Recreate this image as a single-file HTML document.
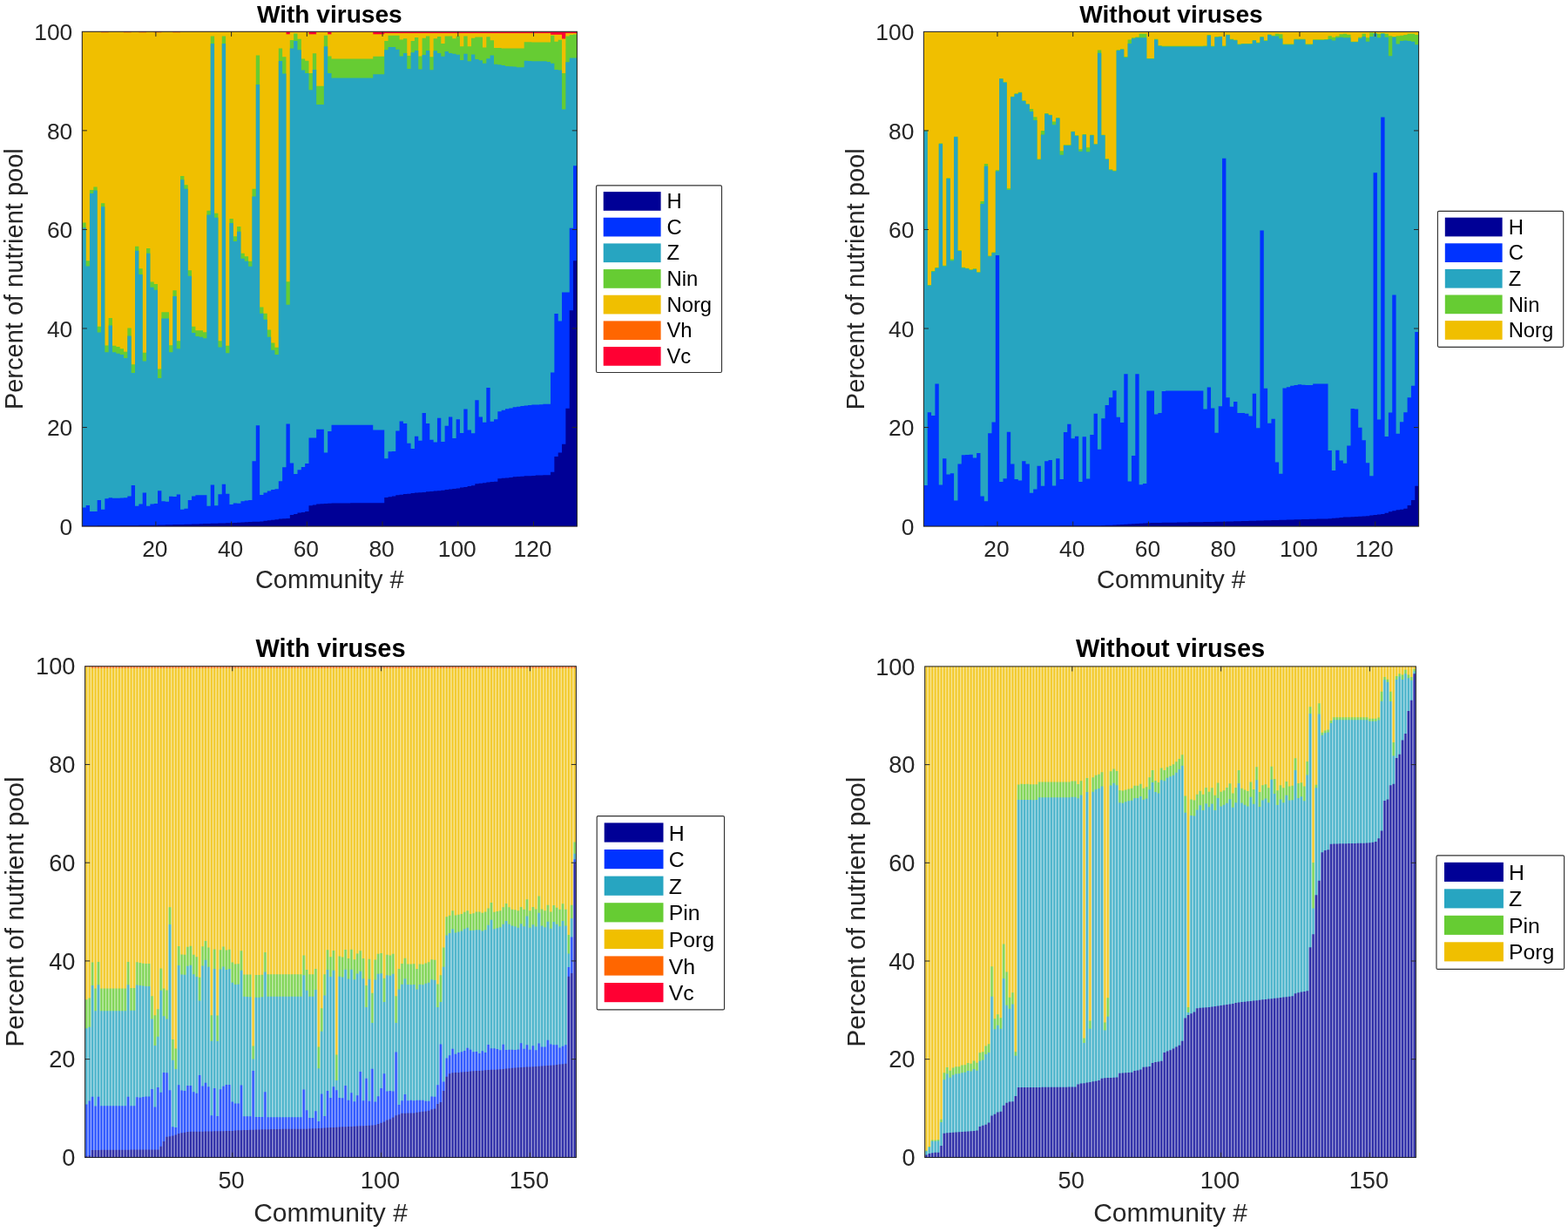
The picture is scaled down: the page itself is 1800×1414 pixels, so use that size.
<!DOCTYPE html>
<html lang="en"><head><meta charset="utf-8"><title>Nutrient pool composition by community</title>
<style>html,body{margin:0;padding:0;background:#fff}body{width:1800px;height:1414px;overflow:hidden}svg{display:block;font-family:'Liberation Sans', Arial, Helvetica, sans-serif}</style>
</head><body>
<svg width="1800" height="1414" viewBox="0 0 1800 1414">
<rect width="1800" height="1414" fill="#fff"/>
<g>
<rect x="94.3" y="36.3" width="568.1" height="567.8" fill="#ff0033"/>
<path d="M94.3 604.1V36.3H115.98V37.15H124.66V36.3H142V37.15H150.68V36.3H159.35V37.15H168.02V36.3H176.7V37.15H185.37V36.3H198.38V37.15H207.05V36.3H319.81V36.75H328.48V39.14H332.82V36.75H354.5V39.14H363.17V36.75H376.18V39.14H380.52V36.75H428.22V39.14H441.23V37.89H632.04V39.42H645.05V44.25H649.39V37.89H662.4V604.1Z" fill="#ff6600"/>
<path d="M94.3 604.1V36.3H115.98V37.15H124.66V36.3H142V37.15H150.68V36.3H159.35V37.15H168.02V36.3H176.7V37.15H185.37V36.3H198.38V37.15H207.05V36.3H319.81V37.04H328.48V39.42H332.82V37.04H354.5V39.42H363.17V37.04H376.18V39.42H380.52V37.04H428.22V39.42H441.23V38.34H632.04V39.88H645.05V44.7H649.39V38.34H662.4V604.1Z" fill="#f0bf00"/>
<path d="M94.3 604.1V255.47H98.64V299.19H102.97V218H107.31V214.59H111.65V374.71H115.98V233.33H120.32V396.57H124.66V365.06H128.99V396.85H133.33V397.99H137.67V400.26H142V403.67H146.34V376.41H150.68V418.15H155.01V282.73H159.35V308.28H163.69V404.8H168.02V285H172.36V323.61H176.7V325.88H181.03V423.54H185.37V358.24H194.04V396.29H198.38V333.26H202.72V391.17H207.05V202.1H211.39V212.32H215.73V310.26H220.06V374.71H224.4V379.25H233.07V381.24H237.41V241.84H241.75V41.41H246.08V244.68H250.42V391.17H254.76V41.41H259.09V396.85H263.43V250.93H267.77V271.37H272.1V260.01H276.44V290.67H280.78V294.37H285.11V299.76H289.45V216.86H293.79V63.55H298.12V352.56H302.46V359.66H306.8V378.4H311.13V393.45H315.47V398.84H319.81V55.61H324.14V65.26H328.48V323.32H332.82V45.95H337.15V38.57H341.49V44.82H345.83V67.53H350.16V69.8H354.5V84H358.84V61.28H363.17V98.76H371.85V40.84H376.18V64.41H380.52V67.53H428.22V64.69H441.23V47.09H445.57V40.84H458.58V45.38H462.91V44.25H467.25V64.12H471.59V47.09H475.92V43.11H480.26V64.41H484.6V43.68H488.93V41.41H493.27V65.26H497.61V44.25H501.94V41.98H506.28V49.93H510.62V41.41H519.29V44.25H523.63V41.41H527.96V53.33H532.3V41.41H536.64V53.33H540.97V43.68H545.31V42.55H553.98V54.47H558.32V42.26H562.66V46.24H566.99V55.04H575.67V55.61H601.69V48.22H610.36V48.51H632.04V40.84H636.38V47.66H640.72V45.67H645.05V84H649.39V41.41H653.73V39.99H658.06V39.42H662.4V604.1Z" fill="#66cc33"/>
<path d="M94.3 604.1V261.15H98.64V305.44H102.97V221.97H107.31V218.56H111.65V381.52H115.98V237.3H120.32V404.23H124.66V373.57H128.99V404.23H133.33V405.65H137.67V407.07H142V411.05H146.34V385.5H150.68V428.08H155.01V287.84H159.35V315.09H163.69V414.45H168.02V290.67H172.36V329.85H176.7V332.69H181.03V434.04H185.37V365.62H194.04V404.23H198.38V340.07H202.72V400.26H207.05V206.36H211.39V216.86H215.73V316.79H220.06V382.09H224.4V386.06H228.74V386.63H233.07V388.34H237.41V246.39H241.75V49.93H246.08V249.79H250.42V398.56H254.76V49.93H259.09V405.37H263.43V256.04H267.77V277.05H272.1V265.69H276.44V296.64H280.78V299.76H285.11V305.72H289.45V225.38H293.79V97.05H298.12V359.66H302.46V366.76H306.8V386.63H311.13V401.68H315.47V407.07H319.81V70.08H324.14V84.56H328.48V349.73H332.82V55.61H337.15V47.09H341.49V57.31H345.83V80.59H350.16V84H354.5V103.3H358.84V80.02H363.17V120.05H371.85V53.33H376.18V84H380.52V89.39H428.22V85.13H441.23V57.31H445.57V53.9H454.24V56.74H458.58V64.41H462.91V61H467.25V78.88H471.59V60.15H475.92V57.88H480.26V79.45H484.6V62.99H488.93V57.88H493.27V80.3H497.61V58.16H501.94V61H506.28V64.69H510.62V59.01H514.95V61H519.29V61.85H523.63V62.7H527.96V68.95H532.3V61.85H536.64V70.37H540.97V62.42H545.31V68.1H549.65V69.23H553.98V72.64H558.32V67.25H562.66V63.55H566.99V73.77H571.33V74.34H575.67V74.91H580V76.05H584.34V76.33H588.68V76.61H593.01V77.18H601.69V69.8H606.02V70.08H610.36V70.37H627.71V70.94H632.04V72.64H636.38V80.02H640.72V80.59H645.05V125.44H649.39V71.22H653.73V66.39H662.4V604.1Z" fill="#27a5c1"/>
<path d="M94.3 604.1V582.52H98.64V579.97H102.97V587.07H111.65V574.01H115.98V584.79H120.32V572.3H124.66V571.17H128.99V571.74H137.67V571.45H142V571.17H146.34V569.46H150.68V556.97H155.01V580.82H159.35V578.55H163.69V565.49H168.02V580.82H172.36V578.55H176.7V577.98H181.03V563.22H185.37V575.14H189.71V575.71H194.04V569.75H198.38V570.03H202.72V567.48H207.05V584.79H211.39V583.66H215.73V574.01H220.06V569.46H224.4V568.33H237.41V580.82H241.75V556.4H246.08V580.25H250.42V567.19H254.76V555.84H259.09V566.63H263.43V579.12H267.77V577.41H272.1V577.7H276.44V575.14H280.78V574.57H285.11V574.01H289.45V529.15H293.79V488.27H298.12V568.04H302.46V565.49H306.8V563.5H311.13V562.08H315.47V561.23H319.81V552.15H324.14V536.25H328.48V486.57H332.82V531.42H337.15V543.91H341.49V539.37H345.83V535.96H350.16V531.99H354.5V502.46H363.17V492.81H371.85V519.5H376.18V495.08H380.52V487.7H428.22V493.38H441.23V526.31H445.57V518.36H449.9V518.08H454.24V494.51H458.58V483.44H462.91V486H467.25V508.71H471.59V514.96H475.92V500.76H480.26V505.87H484.6V474.07H488.93V486H493.27V504.74H497.61V507.57H501.94V479.75H506.28V507.01H510.62V488.84H514.95V478.62H519.29V503.03H523.63V481.17H527.96V497.07H532.3V469.53H536.64V493.38H540.97V497.35H545.31V459.31H549.65V478.62H553.98V484.86H558.32V445.12H562.66V483.73H566.99V481.17H571.33V472.37H575.67V470.67H580V469.25H584.34V468.4H588.68V467.26H593.01V466.69H597.35V466.12H601.69V465.56H606.02V464.99H610.36V464.42H619.03V464.14H623.37V463.85H632.04V427.51H636.38V359.95H640.72V368.46H645.05V335.53H653.73V261.72H658.06V190.17H662.4V604.1Z" fill="#0033ff"/>
<path d="M94.3 604.1V603.53H98.64V603.49H102.97V603.44H107.31V603.4H111.65V603.35H115.98V603.31H120.32V603.26H124.66V603.22H128.99V603.17H133.33V603.13H137.67V603.08H142V603.04H146.34V602.99H150.68V602.95H155.01V602.9H159.35V602.86H163.69V602.81H168.02V602.77H172.36V602.73H176.7V602.68H181.03V602.57H185.37V602.45H189.71V602.34H194.04V602.23H198.38V602.11H202.72V602H207.05V601.89H211.39V601.77H215.73V601.66H220.06V601.54H224.4V601.4H228.74V601.26H233.07V601.12H237.41V600.98H241.75V600.84H246.08V600.69H250.42V600.55H254.76V600.41H259.09V600.27H263.43V600.13H267.77V599.91H272.1V599.7H276.44V599.49H280.78V599.27H285.11V599.06H289.45V598.85H293.79V598.63H298.12V598.42H302.46V597.85H306.8V597.29H311.13V596.72H315.47V596.15H319.81V595.58H324.14V595.3H328.48V595.02H332.82V591.04H337.15V589.9H341.49V588.49H345.83V587.92H350.16V587.07H354.5V580.25H358.84V579.4H363.17V578.55H367.51V578.27H371.85V577.98H376.18V577.7H380.52V577.41H402.2V577.3H415.21V577.24H423.88V577.13H441.23V570.88H445.57V570.32H449.9V569.46H454.24V568.33H458.58V567.76H462.91V566.91H467.25V566.63H471.59V566.06H475.92V565.49H480.26V565.21H484.6V564.92H488.93V564.35H493.27V564.07H497.61V563.5H501.94V563.22H506.28V562.65H510.62V562.08H514.95V561.51H519.29V560.95H523.63V560.38H527.96V559.53H532.3V558.96H536.64V558.11H540.97V557.26H545.31V555.27H549.65V554.7H553.98V554.13H558.32V553.57H562.66V553H566.99V552.71H571.33V549.31H575.67V548.74H580V548.46H584.34V547.89H588.68V547.32H593.01V547.04H597.35V546.75H601.69V546.18H610.36V545.9H614.7V545.62H623.37V545.33H632.04V541.64H636.38V524.04H640.72V519.5H645.05V509.85H649.39V468.68H653.73V356.26H658.06V299.19H662.4V604.1Z" fill="#000096"/>
<rect x="94.3" y="36.3" width="568.1" height="567.8" fill="none" stroke="#262626" stroke-width="1.05"/>
<path d="M178.86 604.1v-5.6M178.86 36.3v5.6M265.6 604.1v-5.6M265.6 36.3v5.6M352.33 604.1v-5.6M352.33 36.3v5.6M439.06 604.1v-5.6M439.06 36.3v5.6M525.8 604.1v-5.6M525.8 36.3v5.6M612.53 604.1v-5.6M612.53 36.3v5.6M94.3 490.54h5.6M662.4 490.54h-5.6M94.3 376.98h5.6M662.4 376.98h-5.6M94.3 263.42h5.6M662.4 263.42h-5.6M94.3 149.86h5.6M662.4 149.86h-5.6" stroke="#262626" stroke-width="1" fill="none"/>
<g font-size="26.4" fill="#262626">
<text x="177.86" y="638.8" text-anchor="middle">20</text>
<text x="264.6" y="638.8" text-anchor="middle">40</text>
<text x="351.33" y="638.8" text-anchor="middle">60</text>
<text x="438.06" y="638.8" text-anchor="middle">80</text>
<text x="524.8" y="638.8" text-anchor="middle">100</text>
<text x="611.53" y="638.8" text-anchor="middle">120</text>
<text x="83.3" y="613.8" text-anchor="end">0</text>
<text x="83.3" y="500.24" text-anchor="end">20</text>
<text x="83.3" y="386.68" text-anchor="end">40</text>
<text x="83.3" y="273.12" text-anchor="end">60</text>
<text x="83.3" y="159.56" text-anchor="end">80</text>
<text x="83.3" y="46" text-anchor="end">100</text>
</g>
<text x="378.35" y="674.7" text-anchor="middle" font-size="29" fill="#262626">Community #</text>
<text transform="translate(26 320.2) rotate(-90)" text-anchor="middle" font-size="29" fill="#262626">Percent of nutrient pool</text>
<text x="378.35" y="25.8" text-anchor="middle" font-size="28.1" font-weight="bold" fill="#000">With viruses</text>
<rect x="684.5" y="212.8" width="144" height="214.7" rx="1.5" fill="#fff" stroke="#333" stroke-width="1.15"/>
<g font-size="23.8" fill="#000">
<rect x="692.7" y="220.1" width="65.9" height="21.7" fill="#000096"/>
<text x="765.5" y="239.05">H</text>
<rect x="692.7" y="249.76" width="65.9" height="21.7" fill="#0033ff"/>
<text x="765.5" y="268.71">C</text>
<rect x="692.7" y="279.42" width="65.9" height="21.7" fill="#27a5c1"/>
<text x="765.5" y="298.37">Z</text>
<rect x="692.7" y="309.08" width="65.9" height="21.7" fill="#66cc33"/>
<text x="765.5" y="328.03">Nin</text>
<rect x="692.7" y="338.74" width="65.9" height="21.7" fill="#f0bf00"/>
<text x="765.5" y="357.69">Norg</text>
<rect x="692.7" y="368.4" width="65.9" height="21.7" fill="#ff6600"/>
<text x="765.5" y="387.35">Vh</text>
<rect x="692.7" y="398.06" width="65.9" height="21.7" fill="#ff0033"/>
<text x="765.5" y="417.01">Vc</text>
</g>
</g>
<g>
<rect x="1060.4" y="36.4" width="568.2" height="567.7" fill="#f0bf00"/>
<path d="M1060.4 604.1V149.83H1064.74V326.95H1069.07V311.05H1073.41V307.08H1077.75V164.59H1082.09V304.81H1086.42V204.33H1090.76V297.54H1095.1V156.64H1099.44V287.21H1103.77V306.8H1108.11V307.65H1112.45V309.35H1116.79V308.21H1121.12V312.19H1125.46V231.12H1129.8V187.98H1134.14V293.45H1138.47V289.48H1142.81V195.36H1147.15V89.93H1151.49V94.19H1155.82V216.36H1160.16V110.66H1164.5V107.25H1168.84V105.83H1173.17V115.2H1177.51V119.17H1181.85V124.96H1186.18V134.33H1190.52V182.47H1194.86V149.94H1199.2V129.96H1203.53V131.66H1207.87V139.44H1212.21V135.07H1216.55V173.22H1220.88V166.29H1229.56V150.68H1233.9V155.22H1238.23V171.23H1242.57V154.08H1246.91V169.24H1251.25V154.65H1255.58V165.15H1259.92V57.4H1264.26V154.65H1268.6V182.19H1272.93V194.22H1277.27V195.64H1281.61V57.29H1285.95V56.16H1290.28V65.07H1294.62V45.48H1298.96V43.21H1303.29V42.53H1307.63V38.67H1316.31V66.94H1324.98V44.8H1329.32V52.18H1333.66V52.75H1381.37V52.47H1385.71V39.98H1390.04V52.75H1394.38V41.96H1398.72V41.68H1403.05V52.47H1407.39V39.69H1411.73V44.8H1416.07V45.65H1420.4V50.48H1424.74V49.91H1437.75V45.94H1442.09V48.78H1446.43V41.96H1450.77V46.22H1455.1V39.41H1459.44V40.83H1463.78V38.67H1468.12V39.24H1472.45V50.48H1485.47V44.8H1498.48V50.48H1507.15V45.37H1520.16V45.09H1524.5V41.23H1528.84V42.64H1533.18V41.51H1537.51V39.24H1541.85V38.67H1546.19V39.81H1550.53V47.64H1559.2V42.64H1563.54V38.67H1567.88V43.21H1572.21V37.54H1576.55V37.99H1580.89V38.67H1585.23V37.99H1589.56V38.67H1593.9V41.23H1598.24V41.96H1602.58V41.23H1606.91V40.66H1611.25V40.09H1615.59V38.67H1624.26V40.09H1628.6V604.1Z" fill="#66cc33"/>
<path d="M1060.4 604.1V150.51H1064.74V327.63H1069.07V311.73H1073.41V307.76H1077.75V165.27H1082.09V305.49H1086.42V205.01H1090.76V299.25H1095.1V157.32H1099.44V287.89H1103.77V307.48H1108.11V308.33H1112.45V310.03H1116.79V308.9H1121.12V312.87H1125.46V233.96H1129.8V190.81H1134.14V294.14H1138.47V290.16H1142.81V196.49H1147.15V90.62H1151.49V94.87H1155.82V218.06H1160.16V111.34H1164.5V107.93H1168.84V106.51H1173.17V115.88H1177.51V119.85H1181.85V128.08H1186.18V138.02H1190.52V183.15H1194.86V154.48H1199.2V130.64H1203.53V132.34H1207.87V143.13H1212.21V135.75H1216.55V177.76H1220.88V166.97H1229.56V151.36H1233.9V155.9H1238.23V173.78H1242.57V154.77H1246.91V174.35H1251.25V155.33H1255.58V165.84H1259.92V60.81H1264.26V155.33H1268.6V182.87H1272.93V195.36H1277.27V196.49H1281.61V57.97H1285.95V56.84H1290.28V65.92H1294.62V50.02H1298.96V44.35H1303.29V43.21H1316.31V67.62H1324.98V45.48H1329.32V52.86H1333.66V53.43H1381.37V53.15H1385.71V40.66H1390.04V53.43H1394.38V42.64H1398.72V42.36H1403.05V53.15H1407.39V40.37H1411.73V45.48H1416.07V46.33H1420.4V51.16H1424.74V50.59H1437.75V46.62H1442.09V49.46H1446.43V42.64H1450.77V46.9H1455.1V40.09H1459.44V41.51H1468.12V44.35H1472.45V51.16H1485.47V45.48H1498.48V51.16H1507.15V46.05H1520.16V45.77H1524.5V44.92H1528.84V46.62H1533.18V43.21H1537.51V42.64H1541.85V43.21H1550.53V48.32H1559.2V44.35H1563.54V42.08H1567.88V47.75H1572.21V42.08H1576.55V38.67H1580.89V43.21H1585.23V38.67H1589.56V42.64H1593.9V64.22H1598.24V42.64H1602.58V50.59H1606.91V46.9H1611.25V46.62H1615.59V46.9H1619.93V47.75H1624.26V51.16H1628.6V604.1Z" fill="#27a5c1"/>
<path d="M1060.4 604.1V556.98H1064.74V473.25H1069.07V476.94H1073.41V440.6H1077.75V556.41H1082.09V526.33H1086.42V544.49H1090.76V543.36H1095.1V574.58H1099.44V532.57H1103.77V522.35H1108.11V522.07H1112.45V521.78H1116.79V525.47H1121.12V520.08H1125.46V569.47H1129.8V575.15H1134.14V497.37H1138.47V484.6H1142.81V293H1147.15V553.01H1151.49V549.32H1155.82V495.67H1160.16V532.57H1164.5V549.88H1168.84V551.59H1173.17V529.16H1177.51V532.57H1181.85V565.78H1186.18V561.52H1190.52V534.84H1194.86V557.83H1199.2V529.16H1203.53V528.03H1207.87V557.55H1212.21V526.33H1216.55V549.88H1220.88V495.95H1225.22V486.87H1229.56V503.33H1233.9V500.78H1238.23V553.01H1242.57V501.35H1246.91V549.6H1251.25V499.08H1255.58V474.66H1259.92V515.82H1264.26V480.34H1268.6V465.01H1272.93V456.21H1277.27V448.27H1281.61V478.64H1285.95V484.88H1290.28V429.25H1294.62V552.44H1298.96V522.92H1303.29V429.25H1307.63V556.13H1311.97V554.99H1316.31V448.55H1324.98V475.52H1329.32V474.1H1333.66V449.12H1337.99V448.55H1381.37V469.56H1385.71V444.58H1390.04V468.42H1394.38V496.8H1398.72V466.15H1403.05V181.73H1407.39V456.21H1411.73V466.72H1416.07V461.04H1420.4V474.1H1429.08V474.66H1433.42V477.5H1437.75V451.67H1442.09V491.13H1446.43V264.62H1450.77V445.71H1455.1V485.73H1459.44V480.63H1463.78V530.58H1468.12V543.64H1472.45V445.43H1476.79V444.29H1481.13V442.87H1485.47V442.02H1489.8V441.17H1494.14V441.74H1498.48V442.02H1507.15V440.6H1524.5V516.96H1528.84V539.95H1533.18V516.67H1537.51V528.6H1541.85V531.72H1546.19V511.56H1550.53V468.99H1554.86V469.56H1559.2V490.84H1563.54V505.32H1567.88V531.15H1572.21V546.19H1576.55V198.19H1580.89V481.48H1585.23V134.61H1589.56V501.06H1593.9V473.53H1598.24V338.42H1602.58V497.66H1606.91V484.32H1611.25V473.25H1615.59V456.21H1619.93V442.87H1624.26V380.99H1628.6V604.1Z" fill="#0033ff"/>
<path d="M1060.4 604.1V603.82H1064.74V603.8H1069.07V603.79H1073.41V603.78H1077.75V603.77H1082.09V603.75H1086.42V603.74H1090.76V603.73H1095.1V603.72H1099.44V603.71H1103.77V603.69H1108.11V603.68H1112.45V603.67H1116.79V603.66H1121.12V603.64H1125.46V603.63H1129.8V603.62H1134.14V603.61H1138.47V603.59H1142.81V603.58H1147.15V603.57H1151.49V603.56H1155.82V603.54H1160.16V603.53H1164.5V603.52H1168.84V603.51H1173.17V603.5H1177.51V603.48H1181.85V603.47H1186.18V603.46H1190.52V603.45H1194.86V603.43H1199.2V603.42H1203.53V603.41H1207.87V603.4H1212.21V603.38H1216.55V603.37H1220.88V603.36H1225.22V603.35H1229.56V603.33H1233.9V603.32H1238.23V603.31H1242.57V603.3H1246.91V603.29H1251.25V603.27H1255.58V603.26H1259.92V603.25H1264.26V603.06H1268.6V602.87H1272.93V602.68H1277.27V602.49H1281.61V602.3H1285.95V602.11H1290.28V601.83H1294.62V601.55H1298.96V601.26H1303.29V600.98H1307.63V600.69H1311.97V600.41H1316.31V600.13H1320.64V600.06H1324.98V599.98H1329.32V599.91H1333.66V599.84H1337.99V599.77H1342.33V599.7H1346.67V599.63H1351.01V599.56H1355.34V599.49H1359.68V599.42H1364.02V599.35H1368.36V599.27H1372.69V599.2H1377.03V599.13H1381.37V599.06H1385.71V598.99H1390.04V598.92H1394.38V598.85H1398.72V598.78H1403.05V598.71H1407.39V598.58H1411.73V598.46H1416.07V598.33H1420.4V598.21H1424.74V598.09H1429.08V597.96H1433.42V597.84H1437.75V597.71H1442.09V597.59H1446.43V597.47H1450.77V597.34H1455.1V597.22H1459.44V597.09H1463.78V596.97H1468.12V596.84H1472.45V596.72H1476.79V596.58H1481.13V596.44H1485.47V596.29H1489.8V596.15H1494.14V596.04H1498.48V595.93H1502.82V595.81H1507.15V595.7H1511.49V595.58H1515.83V595.49H1520.16V595.4H1524.5V595.3H1528.84V594.87H1533.18V594.45H1537.51V594.02H1541.85V593.6H1546.19V593.41H1550.53V593.22H1554.86V593.03H1559.2V592.75H1563.54V592.46H1567.88V592.18H1572.21V591.61H1576.55V591.04H1580.89V590.48H1585.23V589.91H1589.56V588.77H1593.9V587.35H1598.24V586.22H1602.58V585.37H1606.91V584.8H1611.25V583.66H1615.59V579.97H1619.93V574.01H1624.26V557.83H1628.6V604.1Z" fill="#000096"/>
<rect x="1060.4" y="36.4" width="568.2" height="567.7" fill="none" stroke="#262626" stroke-width="1.05"/>
<path d="M1144.98 604.1v-5.6M1144.98 36.4v5.6M1231.73 604.1v-5.6M1231.73 36.4v5.6M1318.48 604.1v-5.6M1318.48 36.4v5.6M1405.22 604.1v-5.6M1405.22 36.4v5.6M1491.97 604.1v-5.6M1491.97 36.4v5.6M1578.72 604.1v-5.6M1578.72 36.4v5.6M1060.4 490.56h5.6M1628.6 490.56h-5.6M1060.4 377.02h5.6M1628.6 377.02h-5.6M1060.4 263.48h5.6M1628.6 263.48h-5.6M1060.4 149.94h5.6M1628.6 149.94h-5.6" stroke="#262626" stroke-width="1" fill="none"/>
<g font-size="26.4" fill="#262626">
<text x="1143.98" y="638.8" text-anchor="middle">20</text>
<text x="1230.73" y="638.8" text-anchor="middle">40</text>
<text x="1317.48" y="638.8" text-anchor="middle">60</text>
<text x="1404.22" y="638.8" text-anchor="middle">80</text>
<text x="1490.97" y="638.8" text-anchor="middle">100</text>
<text x="1577.72" y="638.8" text-anchor="middle">120</text>
<text x="1049.4" y="613.8" text-anchor="end">0</text>
<text x="1049.4" y="500.26" text-anchor="end">20</text>
<text x="1049.4" y="386.72" text-anchor="end">40</text>
<text x="1049.4" y="273.18" text-anchor="end">60</text>
<text x="1049.4" y="159.64" text-anchor="end">80</text>
<text x="1049.4" y="46.1" text-anchor="end">100</text>
</g>
<text x="1344.5" y="674.7" text-anchor="middle" font-size="29" fill="#262626">Community #</text>
<text transform="translate(992 320.25) rotate(-90)" text-anchor="middle" font-size="29" fill="#262626">Percent of nutrient pool</text>
<text x="1344.5" y="25.9" text-anchor="middle" font-size="28.1" font-weight="bold" fill="#000">Without viruses</text>
<rect x="1650.4" y="242.3" width="144.3" height="156" rx="1.5" fill="#fff" stroke="#333" stroke-width="1.15"/>
<g font-size="23.8" fill="#000">
<rect x="1658.8" y="249.7" width="65.8" height="21.7" fill="#000096"/>
<text x="1731.7" y="268.75">H</text>
<rect x="1658.8" y="279.3" width="65.8" height="21.7" fill="#0033ff"/>
<text x="1731.7" y="298.35">C</text>
<rect x="1658.8" y="308.9" width="65.8" height="21.7" fill="#27a5c1"/>
<text x="1731.7" y="327.95">Z</text>
<rect x="1658.8" y="338.5" width="65.8" height="21.7" fill="#66cc33"/>
<text x="1731.7" y="357.55">Nin</text>
<rect x="1658.8" y="368.1" width="65.8" height="21.7" fill="#f0bf00"/>
<text x="1731.7" y="387.15">Norg</text>
</g>
</g>
<g>
<rect x="97.6" y="764.7" width="563.8" height="563.7" fill="#ff0033"/>
<path d="M97.6 1328.4V764.98H661.4V1328.4Z" fill="#ff6600"/>
<path d="M97.6 1328.4V765.55H104.43V766.95H661.4V1328.4Z" fill="#f0bf00"/>
<path d="M97.6 1328.4V1147.17H101.02V1145.48H104.43V1104.61H107.85V1134.49H111.27V1104.05H114.68V1134.49H145.44V1104.05H148.85V1133.92H155.69V1104.33H159.11V1104.89H162.52V1105.74H165.94V1106.02H172.77V1143.22H176.19V1165.21H179.61V1158.16H183.02V1111.38H186.44V1134.49H189.86V1136.46H193.28V1041.19H196.69V1193.11H200.11V1203.54H203.53V1086.01H206.94V1095.59H210.36V1095.87H213.78V1086.85H217.19V1085.73H220.61V1095.87H224.03V1098.13H227.44V1121.8H230.86V1086.29H234.28V1080.09H237.7V1087.42H241.11V1165.21H244.53V1089.39H247.95V1165.49H251.36V1090.24H254.78V1086.57H258.2V1090.52H261.61V1089.67H265.03V1104.61H268.45V1106.58H271.87V1106.3H275.28V1091.36H278.7V1118.42H288.95V1200.44H292.37V1118.99H299.2V1118.7H302.62V1093.06H306.04V1118.14H347.04V1096.44H350.46V1113.07H353.87V1118.14H360.71V1111.94H364.12V1201.57H367.54V1157.32H370.96V1118.14H374.37V1090.24H377.79V1098.13H381.21V1091.08H384.63V1210.59H388.04V1097.56H391.46V1098.41H394.88V1089.95H398.29V1100.1H401.71V1089.67H405.13V1101.23H408.54V1094.46H411.96V1091.36H415.38V1100.1H418.8V1131.11H422.21V1100.67H425.63V1139.84H429.05V1101.51H432.46V1094.75H435.88V1093.9H439.3V1122.65H442.71V1095.87H446.13V1096.44H449.55V1094.75H452.96V1143.22H456.38V1111.94H459.8V1106.02H463.22V1099.82H466.63V1106.58H473.47V1106.3H476.88V1111.94H480.3V1106.58H483.72V1106.87H487.13V1105.46H490.55V1104.33H493.97V1101.23H497.39V1101.79H500.8V1129.41H504.22V1119.27H507.64V1087.42H511.05V1052.19H514.47V1050.78H517.89V1045.14H521.3V1050.5H524.72V1049.65H528.14V1049.09H531.56V1046.83H534.97V1045.14H538.39V1049.09H541.81V1048.24H545.22V1046.55H552.06V1047.68H555.47V1046.55H558.89V1042.6H562.31V1036.12H565.72V1046.83H569.14V1045.99H572.56V1045.14H575.98V1041.19H579.39V1036.97H582.81V1041.19H586.23V1043.73H589.64V1044.3H593.06V1045.14H596.48V1040.91H599.89V1043.73H603.31V1032.18H606.73V1045.14H610.15V1040.91H613.56V1043.45H616.98V1028.51H620.4V1043.45H623.81V1045.14H627.23V1038.66H630.65V1046.55H634.06V1038.94H637.48V1041.76H640.9V1043.73H644.32V1037.25H647.73V1043.73H651.15V1073.04H654.57V1038.66H657.98V966.39H661.4V1328.4Z" fill="#66cc33"/>
<path d="M97.6 1328.4V1180.15H101.02V1178.74H104.43V1131.11H107.85V1160.14H111.27V1130.26H114.68V1160.14H145.44V1130.26H148.85V1159.85H155.69V1130.54H159.11V1131.11H162.52V1131.39H165.94V1131.95H172.77V1169.44H176.19V1199.88H179.61V1189.73H183.02V1136.74H186.44V1166.34H189.86V1169.44H193.28V1060.92H196.69V1216.79H200.11V1226.93H203.53V1107.99H206.94V1118.42H210.36V1118.7H213.78V1108.84H217.19V1107.71H220.61V1118.14H224.03V1120.96H227.44V1148.58H230.86V1108.56H234.28V1101.79H237.7V1109.68H241.11V1194.8H244.53V1111.94H247.95V1195.08H251.36V1112.5H254.78V1109.4H258.2V1113.07H261.61V1111.94H265.03V1127.72H268.45V1129.98H271.87V1129.7H275.28V1113.63H278.7V1143.79H282.12V1144.07H285.53V1144.35H288.95V1215.38H292.37V1144.63H299.2V1144.35H302.62V1115.6H306.04V1143.79H347.04V1119.27H350.46V1136.74H353.87V1143.79H360.71V1135.9H364.12V1226.37H367.54V1183.81H370.96V1142.38H374.37V1113.07H377.79V1120.96H381.21V1113.63H384.63V1239.9H388.04V1120.68H391.46V1121.52H394.88V1112.78H398.29V1123.5H401.71V1112.78H405.13V1124.34H408.54V1117.58H411.96V1114.76H415.38V1123.21H418.8V1155.91H422.21V1123.78H425.63V1173.95H429.05V1124.62H432.46V1117.86H435.88V1117.29H439.3V1149.99H442.71V1119.27H446.13V1119.83H449.55V1117.86H452.96V1173.95H456.38V1135.61H459.8V1129.7H463.22V1123.21H466.63V1129.98H470.05V1130.26H473.47V1129.98H476.88V1135.61H480.3V1129.98H483.72V1130.26H487.13V1128.85H490.55V1127.72H493.97V1124.34H497.39V1124.9H500.8V1155.91H504.22V1149.99H507.64V1109.68H511.05V1073.61H514.47V1071.07H517.89V1066.28H521.3V1070.51H524.72V1069.38H528.14V1068.53H531.56V1066.28H534.97V1064.87H538.39V1067.97H541.81V1067.69H545.22V1067.13H552.06V1068.53H555.47V1067.13H558.89V1061.77H562.31V1055.85H565.72V1066.28H569.14V1065.15H572.56V1064.31H575.98V1060.64H579.39V1056.98H582.81V1060.64H586.23V1062.62H589.64V1063.18H593.06V1064.87H596.48V1060.36H599.89V1063.18H603.31V1051.62H606.73V1064.87H610.15V1061.21H613.56V1063.46H616.98V1047.68H620.4V1062.62H623.81V1064.31H627.23V1057.82H630.65V1065.72H634.06V1058.11H637.48V1060.64H640.9V1063.18H644.32V1056.98H647.73V1062.62H651.15V1094.46H654.57V1053.88H657.98V979.64H661.4V1328.4Z" fill="#27a5c1"/>
<path d="M97.6 1328.4V1267.52H101.02V1263.57H104.43V1258.78H107.85V1269.49H111.27V1258.78H114.68V1269.21H145.44V1258.78H148.85V1269.21H155.69V1259.35H159.11V1259.63H162.52V1259.06H165.94V1258.5H172.77V1250.05H176.19V1270.62H179.61V1248.07H183.02V1253.71H186.44V1230.88H189.86V1231.16H193.28V1251.17H196.69V1293.17H200.11V1294.01H203.53V1245.25H206.94V1251.45H210.36V1252.02H213.78V1246.1H220.61V1253.15H224.03V1254.84H227.44V1233.98H230.86V1246.38H234.28V1242.72H237.7V1247.23H241.11V1280.2H244.53V1248.92H247.95V1281.05H251.36V1250.33H254.78V1246.66H258.2V1244.97H265.03V1264.42H268.45V1266.39H275.28V1245.54H278.7V1281.33H288.95V1228.91H292.37V1281.89H302.62V1253.15H306.04V1282.18H347.04V1250.61H350.46V1274.28H353.87V1283.02H360.71V1275.13H364.12V1286.97H367.54V1255.4H370.96V1281.05H374.37V1252.02H377.79V1259.91H381.21V1247.23H384.63V1251.17H388.04V1259.91H391.46V1260.19H394.88V1246.1H398.29V1262.73H401.71V1254.27H405.13V1264.14H408.54V1257.37H411.96V1230.03H415.38V1263.29H418.8V1237.64H422.21V1263.86H425.63V1226.65H429.05V1264.42H432.46V1258.22H435.88V1248.92H439.3V1232.29H442.71V1252.58H446.13V1252.02H449.55V1252.58H452.96V1207.49H456.38V1268.08H459.8V1263.29H463.22V1255.96H466.63V1263.29H470.05V1262.73H473.47V1263.29H476.88V1262.73H487.13V1263.86H493.97V1258.5H497.39V1258.78H500.8V1245.25H504.22V1198.47H507.64V1241.59H511.05V1214.53H514.47V1211.15H517.89V1203.82H521.3V1209.74H524.72V1208.05H528.14V1207.2H531.56V1206.08H534.97V1202.69H538.39V1204.67H541.81V1207.2H545.22V1206.92H548.64V1208.9H552.06V1206.36H555.47V1208.05H558.89V1199.03H562.31V1203.26H569.14V1204.1H572.56V1205.23H575.98V1198.75H579.39V1204.95H582.81V1204.67H589.64V1204.95H593.06V1204.39H596.48V1197.34H599.89V1203.82H603.31V1199.31H606.73V1204.67H610.15V1200.16H613.56V1205.23H616.98V1197.62H620.4V1201.57H627.23V1193.68H630.65V1198.47H634.06V1199.31H640.9V1202.41H644.32V1200.72H647.73V1199.31H651.15V1109.97H654.57V1075.58H657.98V986.23H661.4V1328.4Z" fill="#0033ff"/>
<path d="M97.6 1328.4V1326.71H101.02V1326.15H104.43V1319.94H107.85V1319.92H111.27V1319.89H114.68V1319.87H118.1V1319.84H121.52V1319.82H124.94V1319.79H128.35V1319.77H131.77V1319.74H135.19V1319.71H138.6V1319.69H142.02V1319.66H145.44V1319.64H148.85V1319.61H152.27V1319.59H155.69V1319.56H159.11V1319.53H162.52V1319.51H165.94V1319.48H169.36V1319.46H172.77V1319.43H176.19V1319.41H179.61V1319.38H183.02V1315.72H186.44V1310.08H189.86V1304.72H193.28V1304.16H196.69V1303.6H200.11V1302.47H203.53V1301.06H206.94V1300.22H210.36V1299.65H213.78V1299.09H217.19V1298.81H220.61V1298.76H224.03V1298.72H227.44V1298.68H230.86V1298.64H234.28V1298.52H237.7V1298.46H241.11V1298.4H244.53V1298.34H247.95V1298.27H251.36V1298.21H254.78V1298.15H258.2V1298.09H261.61V1298.02H265.03V1297.96H268.45V1297.4H271.87V1297.27H275.28V1297.15H278.7V1297.02H282.12V1296.9H285.53V1296.77H288.95V1296.64H292.37V1296.52H295.78V1296.39H299.2V1296.27H302.62V1296.21H306.04V1296.16H309.45V1296.1H312.87V1296.04H316.29V1295.99H319.7V1295.93H323.12V1295.87H326.54V1295.82H329.95V1295.76H333.37V1295.71H353.87V1295.52H357.29V1295.33H360.71V1295.14H364.12V1295H367.54V1294.86H370.96V1294.58H374.37V1294.3H377.79V1294.11H381.21V1293.92H384.63V1293.73H388.04V1293.54H391.46V1293.36H394.88V1293.17H398.29V1293.03H401.71V1292.89H405.13V1292.7H408.54V1292.51H411.96V1292.32H415.38V1292.14H418.8V1291.95H422.21V1291.76H425.63V1291.48H429.05V1291.2H432.46V1290.07H435.88V1288.66H439.3V1287.53H442.71V1285.56H446.13V1284.43H449.55V1282.46H452.96V1280.2H456.38V1279.36H459.8V1277.67H466.63V1277.39H476.88V1276.82H480.3V1276.26H483.72V1275.69H487.13V1275.41H490.55V1274.85H493.97V1273.16H497.39V1272.59H500.8V1266.96H504.22V1264.98H507.64V1252.02H511.05V1235.67H514.47V1232.29H517.89V1231.16H521.3V1230.88H528.14V1230.6H531.56V1230.32H534.97V1229.89H538.39V1229.47H541.81V1229.28H545.22V1229.09H548.64V1228.91H552.06V1228.63H555.47V1228.34H558.89V1228.06H562.31V1227.85H565.72V1227.64H569.14V1227.43H572.56V1227.22H575.98V1226.88H579.39V1226.54H582.81V1226.2H586.23V1225.86H589.64V1225.52H593.06V1225.3H596.48V1225.07H599.89V1224.85H603.31V1224.62H606.73V1224.4H610.15V1224.17H613.56V1223.95H616.98V1223.72H620.4V1223.5H623.81V1223.27H627.23V1222.99H630.65V1222.71H634.06V1222.42H637.48V1222H640.9V1221.58H644.32V1221.16H647.73V1220.73H651.15V1120.68H654.57V1117.01H657.98V990.97H661.4V1328.4Z" fill="#000096"/>
<rect x="97.6" y="764.7" width="563.8" height="563.7" fill="#fff" fill-opacity="0.14"/>
<path d="M97.6 764.7V1328.4M101.02 764.7V1328.4M104.43 764.7V1328.4M107.85 764.7V1328.4M111.27 764.7V1328.4M114.68 764.7V1328.4M118.1 764.7V1328.4M121.52 764.7V1328.4M124.94 764.7V1328.4M128.35 764.7V1328.4M131.77 764.7V1328.4M135.19 764.7V1328.4M138.6 764.7V1328.4M142.02 764.7V1328.4M145.44 764.7V1328.4M148.85 764.7V1328.4M152.27 764.7V1328.4M155.69 764.7V1328.4M159.11 764.7V1328.4M162.52 764.7V1328.4M165.94 764.7V1328.4M169.36 764.7V1328.4M172.77 764.7V1328.4M176.19 764.7V1328.4M179.61 764.7V1328.4M183.02 764.7V1328.4M186.44 764.7V1328.4M189.86 764.7V1328.4M193.28 764.7V1328.4M196.69 764.7V1328.4M200.11 764.7V1328.4M203.53 764.7V1328.4M206.94 764.7V1328.4M210.36 764.7V1328.4M213.78 764.7V1328.4M217.19 764.7V1328.4M220.61 764.7V1328.4M224.03 764.7V1328.4M227.44 764.7V1328.4M230.86 764.7V1328.4M234.28 764.7V1328.4M237.7 764.7V1328.4M241.11 764.7V1328.4M244.53 764.7V1328.4M247.95 764.7V1328.4M251.36 764.7V1328.4M254.78 764.7V1328.4M258.2 764.7V1328.4M261.61 764.7V1328.4M265.03 764.7V1328.4M268.45 764.7V1328.4M271.87 764.7V1328.4M275.28 764.7V1328.4M278.7 764.7V1328.4M282.12 764.7V1328.4M285.53 764.7V1328.4M288.95 764.7V1328.4M292.37 764.7V1328.4M295.78 764.7V1328.4M299.2 764.7V1328.4M302.62 764.7V1328.4M306.04 764.7V1328.4M309.45 764.7V1328.4M312.87 764.7V1328.4M316.29 764.7V1328.4M319.7 764.7V1328.4M323.12 764.7V1328.4M326.54 764.7V1328.4M329.95 764.7V1328.4M333.37 764.7V1328.4M336.79 764.7V1328.4M340.2 764.7V1328.4M343.62 764.7V1328.4M347.04 764.7V1328.4M350.46 764.7V1328.4M353.87 764.7V1328.4M357.29 764.7V1328.4M360.71 764.7V1328.4M364.12 764.7V1328.4M367.54 764.7V1328.4M370.96 764.7V1328.4M374.37 764.7V1328.4M377.79 764.7V1328.4M381.21 764.7V1328.4M384.63 764.7V1328.4M388.04 764.7V1328.4M391.46 764.7V1328.4M394.88 764.7V1328.4M398.29 764.7V1328.4M401.71 764.7V1328.4M405.13 764.7V1328.4M408.54 764.7V1328.4M411.96 764.7V1328.4M415.38 764.7V1328.4M418.8 764.7V1328.4M422.21 764.7V1328.4M425.63 764.7V1328.4M429.05 764.7V1328.4M432.46 764.7V1328.4M435.88 764.7V1328.4M439.3 764.7V1328.4M442.71 764.7V1328.4M446.13 764.7V1328.4M449.55 764.7V1328.4M452.96 764.7V1328.4M456.38 764.7V1328.4M459.8 764.7V1328.4M463.22 764.7V1328.4M466.63 764.7V1328.4M470.05 764.7V1328.4M473.47 764.7V1328.4M476.88 764.7V1328.4M480.3 764.7V1328.4M483.72 764.7V1328.4M487.13 764.7V1328.4M490.55 764.7V1328.4M493.97 764.7V1328.4M497.39 764.7V1328.4M500.8 764.7V1328.4M504.22 764.7V1328.4M507.64 764.7V1328.4M511.05 764.7V1328.4M514.47 764.7V1328.4M517.89 764.7V1328.4M521.3 764.7V1328.4M524.72 764.7V1328.4M528.14 764.7V1328.4M531.56 764.7V1328.4M534.97 764.7V1328.4M538.39 764.7V1328.4M541.81 764.7V1328.4M545.22 764.7V1328.4M548.64 764.7V1328.4M552.06 764.7V1328.4M555.47 764.7V1328.4M558.89 764.7V1328.4M562.31 764.7V1328.4M565.72 764.7V1328.4M569.14 764.7V1328.4M572.56 764.7V1328.4M575.98 764.7V1328.4M579.39 764.7V1328.4M582.81 764.7V1328.4M586.23 764.7V1328.4M589.64 764.7V1328.4M593.06 764.7V1328.4M596.48 764.7V1328.4M599.89 764.7V1328.4M603.31 764.7V1328.4M606.73 764.7V1328.4M610.15 764.7V1328.4M613.56 764.7V1328.4M616.98 764.7V1328.4M620.4 764.7V1328.4M623.81 764.7V1328.4M627.23 764.7V1328.4M630.65 764.7V1328.4M634.06 764.7V1328.4M637.48 764.7V1328.4M640.9 764.7V1328.4M644.32 764.7V1328.4M647.73 764.7V1328.4M651.15 764.7V1328.4M654.57 764.7V1328.4M657.98 764.7V1328.4M661.4 764.7V1328.4" stroke="#fff" stroke-opacity="0.47" stroke-width="1.7" fill="none"/>
<rect x="97.6" y="764.7" width="563.8" height="563.7" fill="none" stroke="#262626" stroke-width="1.05"/>
<path d="M266.74 1328.4v-5.6M266.74 764.7v5.6M437.59 1328.4v-5.6M437.59 764.7v5.6M608.44 1328.4v-5.6M608.44 764.7v5.6M97.6 1215.66h5.6M661.4 1215.66h-5.6M97.6 1102.92h5.6M661.4 1102.92h-5.6M97.6 990.18h5.6M661.4 990.18h-5.6M97.6 877.44h5.6M661.4 877.44h-5.6" stroke="#262626" stroke-width="1" fill="none"/>
<g font-size="27.2" fill="#262626">
<text x="265.64" y="1364.3" text-anchor="middle">50</text>
<text x="436.49" y="1364.3" text-anchor="middle">100</text>
<text x="607.34" y="1364.3" text-anchor="middle">150</text>
<text x="86.4" y="1338.1" text-anchor="end">0</text>
<text x="86.4" y="1225.36" text-anchor="end">20</text>
<text x="86.4" y="1112.62" text-anchor="end">40</text>
<text x="86.4" y="999.88" text-anchor="end">60</text>
<text x="86.4" y="887.14" text-anchor="end">80</text>
<text x="86.4" y="774.4" text-anchor="end">100</text>
</g>
<text x="379.5" y="1401.8" text-anchor="middle" font-size="30" fill="#262626">Community #</text>
<text transform="translate(26.7 1046.55) rotate(-90)" text-anchor="middle" font-size="30" fill="#262626">Percent of nutrient pool</text>
<text x="379.5" y="754.2" text-anchor="middle" font-size="29" font-weight="bold" fill="#000">With viruses</text>
<rect x="685.2" y="936.6" width="146.3" height="222.3" rx="1.5" fill="#fff" stroke="#333" stroke-width="1.15"/>
<g font-size="24.8" fill="#000">
<rect x="693.7" y="944.4" width="67.8" height="22.2" fill="#000096"/>
<text x="767.7" y="964.5">H</text>
<rect x="693.7" y="975" width="67.8" height="22.2" fill="#0033ff"/>
<text x="767.7" y="995.1">C</text>
<rect x="693.7" y="1005.6" width="67.8" height="22.2" fill="#27a5c1"/>
<text x="767.7" y="1025.7">Z</text>
<rect x="693.7" y="1036.2" width="67.8" height="22.2" fill="#66cc33"/>
<text x="767.7" y="1056.3">Pin</text>
<rect x="693.7" y="1066.8" width="67.8" height="22.2" fill="#f0bf00"/>
<text x="767.7" y="1086.9">Porg</text>
<rect x="693.7" y="1097.4" width="67.8" height="22.2" fill="#ff6600"/>
<text x="767.7" y="1117.5">Vh</text>
<rect x="693.7" y="1128" width="67.8" height="22.2" fill="#ff0033"/>
<text x="767.7" y="1148.1">Vc</text>
</g>
</g>
<g>
<rect x="1061.7" y="764.9" width="563.7" height="563.5" fill="#f0bf00"/>
<path d="M1061.7 1328.4V1320.51H1065.12V1316H1068.53V1308.4H1075.37V1308.11H1078.78V1284.73H1082.2V1231.2H1085.61V1225H1089.03V1228.66H1092.45V1225.56H1095.86V1224.15H1102.7V1222.46H1106.11V1222.18H1109.53V1219.93H1112.95V1220.77H1116.36V1217.39H1119.78V1219.64H1123.19V1208.37H1126.61V1207.25H1130.03V1200.49H1133.44V1198.23H1136.86V1109.37H1140.28V1169.21H1143.69V1164.14H1147.11V1168.37H1150.53V1083.5H1153.94V1115.62H1157.36V1144.7H1160.77V1139.35H1164.19V1207.25H1167.61V900.59H1171.02V899.75H1174.44V899.97H1177.86V899.75H1181.27V900.25H1191.52V897.49H1229.1V896.48H1235.93V899.97H1239.35V896.2H1242.77V1191.47H1246.18V893.1H1249.6V1171.47H1253.02V892.25H1256.43V889.72H1259.85V888.87H1263.27V886.22H1266.68V1173.44H1270.1V1145.26H1273.51V885.21H1276.93V882.5H1280.35V884.98H1283.76V906.9H1287.18V907.47H1290.6V906.51H1294.01V905.61H1297.43V904.76H1300.85V901.83H1307.68V899.75H1311.09V904.76H1314.51V903.13H1317.93V892.25H1321.34V883.97H1324.76V895.97H1328.18V898.11H1331.59V881.49H1335.01V883.97H1338.43V880.59H1341.84V879.01H1345.26V877.26H1348.67V874.33H1352.09V871.01H1355.51V866.22H1358.92V913.49H1362.34V1155.97H1365.76V917.5H1369.17V918.51H1372.59V911.86H1376.01V907.75H1379.42V911.86H1382.84V903.97H1386.25V908.76H1389.67V904.37H1393.09V912.71H1396.5V898.45H1399.92V908.76H1403.34V907.24H1406.75V903.97H1410.17V899.35H1413.59V910.62H1417V903.97H1420.42V883.97H1423.83V904.76H1427.25V906.51H1430.67V908.03H1434.08V897.49H1437.5V906H1440.92V880.25H1444.33V908.99H1447.75V901.27H1451.17V900.25H1454.58V904.37H1458V879.74H1461.41V893.94H1464.83V907.24H1468.25V901.27H1471.66V904.37H1475.08V897.04H1478.5V902.39H1481.91V901.83H1485.33V870.27H1488.75V898.9H1492.16V898.17H1495.58V902.39H1498.99V874.05H1502.41V811.28H1505.83V990.02H1509.24V900.7H1512.66V807.28H1516.08V840.63H1519.49V838.49H1522.91V837.59H1526.33V826.88H1529.74V823.17H1570.74V824.8H1580.99V823.5H1584.4V793.75H1587.82V776.9H1591.24V779.78H1594.65V793.75H1598.07V851.9H1601.49V776H1604.9V773.13H1608.32V774.48H1611.73V768.84H1615.15V774.48H1618.57V776.9H1621.98V767.72H1625.4V1328.4Z" fill="#66cc33"/>
<path d="M1061.7 1328.4V1321.36H1065.12V1316.85H1068.53V1309.8H1075.37V1309.52H1078.78V1288.11H1082.2V1239.37H1085.61V1232.61H1089.03V1236.83H1092.45V1233.73H1095.86V1232.61H1099.28V1232.32H1102.7V1231.2H1106.11V1230.63H1109.53V1228.94H1112.95V1229.51H1116.36V1226.97H1119.78V1228.66H1123.19V1217.67H1126.61V1216.55H1130.03V1210.07H1133.44V1208.09H1136.86V1143.74H1140.28V1181.33H1143.69V1176.82H1147.11V1180.76H1150.53V1123.12H1153.94V1153.72H1157.36V1157.66H1160.77V1152.59H1164.19V1211.76H1167.61V918.12H1171.02V917.89H1174.44V918.12H1177.86V917.89H1181.27V918.12H1184.69V918.28H1188.11V918.12H1191.52V915.24H1229.1V914.79H1235.93V916.26H1239.35V912.54H1242.77V1197.1H1246.18V908.99H1249.6V1180.76H1253.02V908.76H1256.43V906H1259.85V904.99H1263.27V902.51H1266.68V1182.45H1270.1V1166.84H1273.51V901.49H1276.93V898.73H1280.35V901.27H1283.76V921.27H1287.18V921.83H1290.6V920.26H1294.01V919.3H1297.43V918.74H1300.85V915.92H1307.68V914H1311.09V917.72H1314.51V916.48H1317.93V906.34H1321.34V898.11H1324.76V908.99H1328.18V910.62H1331.59V895.24H1335.01V896.2H1338.43V892.81H1341.84V891.24H1345.26V889.72H1348.67V886.84H1352.09V883.12H1355.51V878.73H1358.92V932.71H1362.34V1161.89H1365.76V935.98H1369.17V936.49H1372.59V929.39H1376.01V924.37H1379.42V930.01H1382.84V922.23H1386.25V926.23H1389.67V922.51H1393.09V930.01H1396.5V915.97H1399.92V925.61H1403.34V923.75H1406.75V921.83H1410.17V917.21H1413.59V926.85H1417V921.21H1420.42V899.01H1423.83V921.55H1427.25V923.75H1430.67V925.5H1434.08V914.79H1437.5V922.68H1440.92V895.24H1444.33V926.06H1447.75V918.45H1451.17V916.48H1454.58V921.21H1458V894.73H1461.41V910.96H1464.83V923.98H1468.25V917.5H1471.66V921.21H1475.08V912.82H1478.5V918.45H1481.91V918.28H1485.33V884.08H1488.75V915.92H1492.16V914.23H1495.58V919.3H1498.99V889.43H1502.41V819H1505.83V1042.54H1509.24V904.37H1512.66V819.39H1516.08V843.79H1519.49V841.25H1522.91V840.41H1526.33V830.04H1529.74V826.32H1570.74V827.79H1580.99V826.55H1584.4V804.8H1587.82V780.28H1591.24V782.76H1594.65V805.02H1598.07V867.46H1601.49V780.11H1604.9V776.51H1608.32V780.11H1611.73V773.13H1615.15V778.14H1618.57V780.68H1621.98V770.53H1625.4V1328.4Z" fill="#27a5c1"/>
<path d="M1061.7 1328.4V1325.58H1065.12V1323.89H1068.53V1323.33H1071.95V1322.76H1078.78V1314.88H1082.2V1300.79H1085.61V1300.23H1089.03V1299.97H1092.45V1299.72H1095.86V1299.47H1099.28V1299.22H1102.7V1298.97H1106.11V1298.72H1109.53V1298.47H1112.95V1298.22H1116.36V1297.97H1119.78V1297.41H1123.19V1292.9H1126.61V1291.77H1130.03V1290.65H1133.44V1288.39H1136.86V1280.5H1140.28V1278.81H1143.69V1276.56H1147.11V1275.71H1150.53V1268.67H1153.94V1265.85H1157.36V1264.44H1160.77V1264.16H1164.19V1257.96H1167.61V1248.1H1171.02V1248.07H1174.44V1248.04H1177.86V1248.01H1181.27V1247.98H1184.69V1247.95H1188.11V1247.92H1191.52V1247.89H1194.94V1247.86H1198.35V1247.83H1201.77V1247.8H1205.19V1247.78H1208.6V1247.75H1212.02V1247.72H1215.44V1247.69H1218.85V1247.66H1222.27V1247.63H1225.69V1247.6H1229.1V1247.57H1232.52V1247.54H1235.93V1244.44H1239.35V1243.59H1242.77V1243.31H1246.18V1242.47H1249.6V1241.9H1253.02V1241.34H1256.43V1240.78H1259.85V1239.93H1263.27V1237.68H1266.68V1237.23H1270.1V1237.11H1273.51V1237H1276.93V1236.83H1280.35V1236.55H1283.76V1231.87H1287.18V1231.48H1290.6V1231.2H1294.01V1230.91H1297.43V1230.63H1300.85V1228.94H1304.26V1228.49H1307.68V1227.53H1311.09V1224.72H1314.51V1224.38H1317.93V1223.98H1321.34V1219.98H1324.76V1218.97H1328.18V1218.52H1331.59V1217.73H1335.01V1208.09H1338.43V1206.46H1341.84V1205.22H1345.26V1203.47H1348.67V1201.5H1352.09V1199.75H1355.51V1194.74H1358.92V1168.48H1362.34V1164.99H1365.76V1163.13H1369.17V1161.49H1372.59V1157.21H1376.01V1156.81H1379.42V1156.53H1382.84V1156.25H1386.25V1155.97H1389.67V1155.48H1393.09V1154.98H1396.5V1154.49H1399.92V1154H1403.34V1153.5H1406.75V1153.01H1410.17V1152.52H1413.59V1152.02H1417V1150.9H1420.42V1150.5H1423.83V1150.11H1427.25V1149.71H1430.67V1149.32H1434.08V1148.93H1437.5V1148.53H1440.92V1148.14H1444.33V1147.74H1447.75V1147.35H1451.17V1146.95H1454.58V1146.56H1458V1146.16H1461.41V1145.77H1464.83V1145.38H1468.25V1144.98H1471.66V1144.56H1475.08V1144.14H1478.5V1143.71H1481.91V1143.29H1485.33V1140.19H1488.75V1139.35H1492.16V1138.5H1495.58V1137.94H1498.99V1137.37H1502.41V1087.22H1505.83V1072.29H1509.24V1027.27H1512.66V1010.64H1516.08V978.13H1519.49V976.04H1522.91V975.25H1526.33V968.77H1529.74V968.55H1533.16V968.46H1536.57V968.36H1539.99V968.27H1543.41V968.18H1546.82V968.09H1550.24V968H1553.66V967.9H1557.07V967.81H1560.49V967.72H1563.91V967.63H1567.32V967.53H1570.74V967.25H1574.15V966.63H1577.57V966.07H1580.99V962.29H1584.4V953.5H1587.82V919.02H1591.24V917.61H1594.65V901.27H1598.07V899.8H1601.49V870.05H1604.9V865.77H1608.32V849.42H1611.73V842.1H1615.15V816.01H1618.57V803.78H1621.98V773.13H1625.4V1328.4Z" fill="#000096"/>
<rect x="1061.7" y="764.9" width="563.7" height="563.5" fill="#fff" fill-opacity="0.14"/>
<path d="M1061.7 764.9V1328.4M1065.12 764.9V1328.4M1068.53 764.9V1328.4M1071.95 764.9V1328.4M1075.37 764.9V1328.4M1078.78 764.9V1328.4M1082.2 764.9V1328.4M1085.61 764.9V1328.4M1089.03 764.9V1328.4M1092.45 764.9V1328.4M1095.86 764.9V1328.4M1099.28 764.9V1328.4M1102.7 764.9V1328.4M1106.11 764.9V1328.4M1109.53 764.9V1328.4M1112.95 764.9V1328.4M1116.36 764.9V1328.4M1119.78 764.9V1328.4M1123.19 764.9V1328.4M1126.61 764.9V1328.4M1130.03 764.9V1328.4M1133.44 764.9V1328.4M1136.86 764.9V1328.4M1140.28 764.9V1328.4M1143.69 764.9V1328.4M1147.11 764.9V1328.4M1150.53 764.9V1328.4M1153.94 764.9V1328.4M1157.36 764.9V1328.4M1160.77 764.9V1328.4M1164.19 764.9V1328.4M1167.61 764.9V1328.4M1171.02 764.9V1328.4M1174.44 764.9V1328.4M1177.86 764.9V1328.4M1181.27 764.9V1328.4M1184.69 764.9V1328.4M1188.11 764.9V1328.4M1191.52 764.9V1328.4M1194.94 764.9V1328.4M1198.35 764.9V1328.4M1201.77 764.9V1328.4M1205.19 764.9V1328.4M1208.6 764.9V1328.4M1212.02 764.9V1328.4M1215.44 764.9V1328.4M1218.85 764.9V1328.4M1222.27 764.9V1328.4M1225.69 764.9V1328.4M1229.1 764.9V1328.4M1232.52 764.9V1328.4M1235.93 764.9V1328.4M1239.35 764.9V1328.4M1242.77 764.9V1328.4M1246.18 764.9V1328.4M1249.6 764.9V1328.4M1253.02 764.9V1328.4M1256.43 764.9V1328.4M1259.85 764.9V1328.4M1263.27 764.9V1328.4M1266.68 764.9V1328.4M1270.1 764.9V1328.4M1273.51 764.9V1328.4M1276.93 764.9V1328.4M1280.35 764.9V1328.4M1283.76 764.9V1328.4M1287.18 764.9V1328.4M1290.6 764.9V1328.4M1294.01 764.9V1328.4M1297.43 764.9V1328.4M1300.85 764.9V1328.4M1304.26 764.9V1328.4M1307.68 764.9V1328.4M1311.09 764.9V1328.4M1314.51 764.9V1328.4M1317.93 764.9V1328.4M1321.34 764.9V1328.4M1324.76 764.9V1328.4M1328.18 764.9V1328.4M1331.59 764.9V1328.4M1335.01 764.9V1328.4M1338.43 764.9V1328.4M1341.84 764.9V1328.4M1345.26 764.9V1328.4M1348.67 764.9V1328.4M1352.09 764.9V1328.4M1355.51 764.9V1328.4M1358.92 764.9V1328.4M1362.34 764.9V1328.4M1365.76 764.9V1328.4M1369.17 764.9V1328.4M1372.59 764.9V1328.4M1376.01 764.9V1328.4M1379.42 764.9V1328.4M1382.84 764.9V1328.4M1386.25 764.9V1328.4M1389.67 764.9V1328.4M1393.09 764.9V1328.4M1396.5 764.9V1328.4M1399.92 764.9V1328.4M1403.34 764.9V1328.4M1406.75 764.9V1328.4M1410.17 764.9V1328.4M1413.59 764.9V1328.4M1417 764.9V1328.4M1420.42 764.9V1328.4M1423.83 764.9V1328.4M1427.25 764.9V1328.4M1430.67 764.9V1328.4M1434.08 764.9V1328.4M1437.5 764.9V1328.4M1440.92 764.9V1328.4M1444.33 764.9V1328.4M1447.75 764.9V1328.4M1451.17 764.9V1328.4M1454.58 764.9V1328.4M1458 764.9V1328.4M1461.41 764.9V1328.4M1464.83 764.9V1328.4M1468.25 764.9V1328.4M1471.66 764.9V1328.4M1475.08 764.9V1328.4M1478.5 764.9V1328.4M1481.91 764.9V1328.4M1485.33 764.9V1328.4M1488.75 764.9V1328.4M1492.16 764.9V1328.4M1495.58 764.9V1328.4M1498.99 764.9V1328.4M1502.41 764.9V1328.4M1505.83 764.9V1328.4M1509.24 764.9V1328.4M1512.66 764.9V1328.4M1516.08 764.9V1328.4M1519.49 764.9V1328.4M1522.91 764.9V1328.4M1526.33 764.9V1328.4M1529.74 764.9V1328.4M1533.16 764.9V1328.4M1536.57 764.9V1328.4M1539.99 764.9V1328.4M1543.41 764.9V1328.4M1546.82 764.9V1328.4M1550.24 764.9V1328.4M1553.66 764.9V1328.4M1557.07 764.9V1328.4M1560.49 764.9V1328.4M1563.91 764.9V1328.4M1567.32 764.9V1328.4M1570.74 764.9V1328.4M1574.15 764.9V1328.4M1577.57 764.9V1328.4M1580.99 764.9V1328.4M1584.4 764.9V1328.4M1587.82 764.9V1328.4M1591.24 764.9V1328.4M1594.65 764.9V1328.4M1598.07 764.9V1328.4M1601.49 764.9V1328.4M1604.9 764.9V1328.4M1608.32 764.9V1328.4M1611.73 764.9V1328.4M1615.15 764.9V1328.4M1618.57 764.9V1328.4M1621.98 764.9V1328.4M1625.4 764.9V1328.4" stroke="#fff" stroke-opacity="0.47" stroke-width="1.7" fill="none"/>
<rect x="1061.7" y="764.9" width="563.7" height="563.5" fill="none" stroke="#262626" stroke-width="1.05"/>
<path d="M1230.81 1328.4v-5.6M1230.81 764.9v5.6M1401.63 1328.4v-5.6M1401.63 764.9v5.6M1572.45 1328.4v-5.6M1572.45 764.9v5.6M1061.7 1215.7h5.6M1625.4 1215.7h-5.6M1061.7 1103h5.6M1625.4 1103h-5.6M1061.7 990.3h5.6M1625.4 990.3h-5.6M1061.7 877.6h5.6M1625.4 877.6h-5.6" stroke="#262626" stroke-width="1" fill="none"/>
<g font-size="27.2" fill="#262626">
<text x="1229.71" y="1364.3" text-anchor="middle">50</text>
<text x="1400.53" y="1364.3" text-anchor="middle">100</text>
<text x="1571.35" y="1364.3" text-anchor="middle">150</text>
<text x="1050.5" y="1338.1" text-anchor="end">0</text>
<text x="1050.5" y="1225.4" text-anchor="end">20</text>
<text x="1050.5" y="1112.7" text-anchor="end">40</text>
<text x="1050.5" y="1000" text-anchor="end">60</text>
<text x="1050.5" y="887.3" text-anchor="end">80</text>
<text x="1050.5" y="774.6" text-anchor="end">100</text>
</g>
<text x="1343.55" y="1401.8" text-anchor="middle" font-size="30" fill="#262626">Community #</text>
<text transform="translate(992.7 1046.65) rotate(-90)" text-anchor="middle" font-size="30" fill="#262626">Percent of nutrient pool</text>
<text x="1343.55" y="754.4" text-anchor="middle" font-size="29" font-weight="bold" fill="#000">Without viruses</text>
<rect x="1649" y="981.9" width="146.6" height="130.5" rx="1.5" fill="#fff" stroke="#333" stroke-width="1.15"/>
<g font-size="24.8" fill="#000">
<rect x="1658" y="989.8" width="67.9" height="22.1" fill="#000096"/>
<text x="1732" y="1009.85">H</text>
<rect x="1658" y="1020.3" width="67.9" height="22.1" fill="#27a5c1"/>
<text x="1732" y="1040.35">Z</text>
<rect x="1658" y="1050.8" width="67.9" height="22.1" fill="#66cc33"/>
<text x="1732" y="1070.85">Pin</text>
<rect x="1658" y="1081.3" width="67.9" height="22.1" fill="#f0bf00"/>
<text x="1732" y="1101.35">Porg</text>
</g>
</g>
</svg></body></html>
